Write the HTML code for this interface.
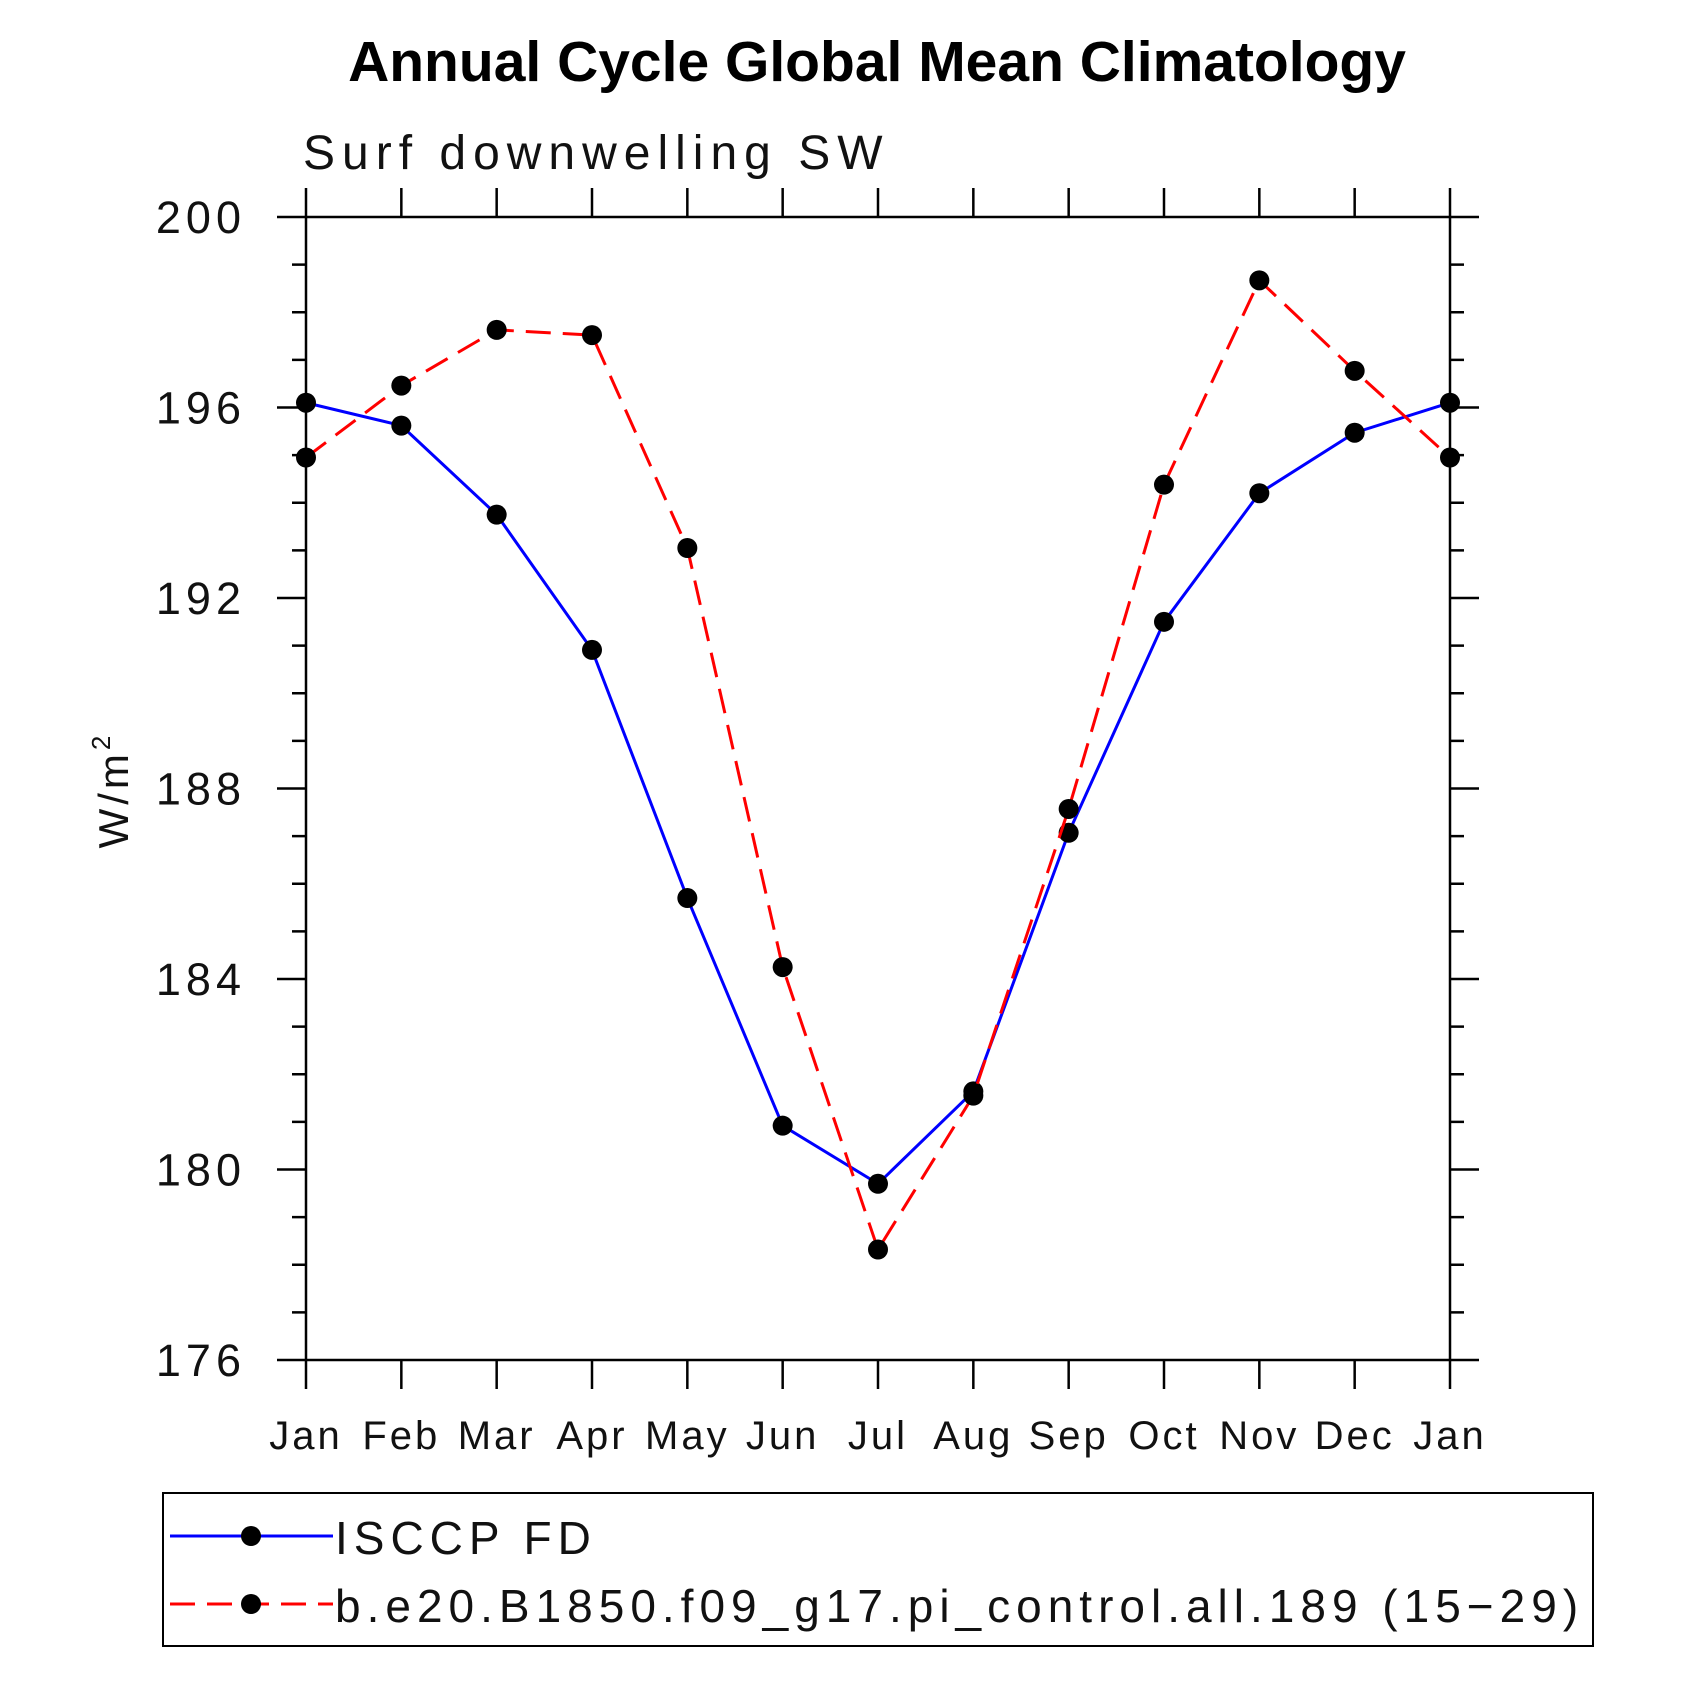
<!DOCTYPE html>
<html><head><meta charset="utf-8"><style>
html,body{margin:0;padding:0;background:#fff;}
svg{display:block;font-family:"Liberation Sans",sans-serif;}
</style></head><body>
<svg id="chart" width="1685" height="1685" viewBox="0 0 1685 1685">
<text x="877" y="81" text-anchor="middle" font-size="57" font-weight="bold">Annual Cycle Global Mean Climatology</text>
<text x="303" y="169" font-size="48" fill="#111" letter-spacing="7">Surf downwelling SW</text>
<text transform="translate(128,790) rotate(-90)" text-anchor="middle" font-size="42" fill="#111" letter-spacing="4">W/m<tspan font-size="26" dy="-18">2</tspan></text>
<g id="axes"></g>
<g id="series"></g>
<rect x="163" y="1493" width="1430" height="153" fill="none" stroke="#000" stroke-width="2"/>
<g>
<line x1="170" y1="1536" x2="333" y2="1536" stroke="#0000ff" stroke-width="3"/>
<circle cx="251" cy="1536" r="10"/>
<text x="335" y="1554" font-size="46" fill="#111" letter-spacing="6">ISCCP FD</text>
</g>
<g>
<line x1="170" y1="1604" x2="333" y2="1604" stroke="#ff0000" stroke-width="3" stroke-dasharray="25,12"/>
<circle cx="251" cy="1604" r="10"/>
<text x="335" y="1622" font-size="46" fill="#111" letter-spacing="6">b.e20.B1850.f09_g17.pi_control.all.189 (15−29)</text>
</g>
</svg>
<script>
const months = ["Jan","Feb","Mar","Apr","May","Jun","Jul","Aug","Sep","Oct","Nov","Dec","Jan"];
const isccp = [196.10,195.62,193.75,190.91,185.70,180.92,179.70,181.64,187.07,191.50,194.20,195.47,196.10];
const model = [194.95,196.46,197.63,197.52,193.05,184.25,178.32,181.55,187.57,194.38,198.67,196.77,194.95];
const yTicks = [176,180,184,188,192,196,200];
const yMin = 176, yMax = 200;
const L=306,R=1450,T=217,B=1360;
const NS="http://www.w3.org/2000/svg";
const xs = i => L + (R-L)*i/(months.length-1);
const ys = v => B - (B-T)*(v-yMin)/(yMax-yMin);
function mk(tag, attrs, parent){const e=document.createElementNS(NS,tag);for(const k in attrs)e.setAttribute(k,attrs[k]);parent.appendChild(e);return e;}
const axes=document.getElementById('axes');
const frame=mk('rect',{x:L,y:T,width:R-L,height:B-T,fill:'none',stroke:'#000','stroke-width':2.5},axes);


for(let v=yMin;v<=yMax;v++){
  const y=ys(v), major=yTicks.includes(v), len=major?29:14;
  const t1=mk('line',{x1:L-len,y1:y,x2:L,y2:y,stroke:'#000','stroke-width':2.5},axes);
  
  
  const t2=mk('line',{x1:R,y1:y,x2:R+len,y2:y,stroke:'#000','stroke-width':2.5},axes);
  
  
  if(major){
    const tx=mk('text',{x:246,y:y+16,'text-anchor':'end','font-size':45,fill:'#111','letter-spacing':5},axes);
    tx.textContent=v;
    
    
  }
}
months.forEach((m,i)=>{
  const x=xs(i);
  const t1=mk('line',{x1:x,y1:B,x2:x,y2:B+29,stroke:'#000','stroke-width':2.5},axes);
  
  
  const t2=mk('line',{x1:x,y1:T-29,x2:x,y2:T,stroke:'#000','stroke-width':2.5},axes);
  
  
  const tx=mk('text',{x:x,y:1449,'text-anchor':'middle','font-size':40,fill:'#111','letter-spacing':3},axes);
  tx.textContent=m;
  
  
});
const ser=document.getElementById('series');
function drawSeries(vals,color,dash,name){
  const pts=vals.map((v,i)=>xs(i)+','+ys(v)).join(' ');
  const a={points:pts,fill:'none',stroke:color,'stroke-width':3};
  if(dash)a['stroke-dasharray']=dash;
  const pl=mk('polyline',a,ser);
  
  
  vals.forEach((v,i)=>{
    const c=mk('circle',{cx:xs(i),cy:ys(v),r:10,fill:'#000'},ser);
    
    
  });
}
drawSeries(isccp,'#0000ff',null,'isccp');
drawSeries(model,'#ff0000','25,12','model');
</script>
</body></html>
